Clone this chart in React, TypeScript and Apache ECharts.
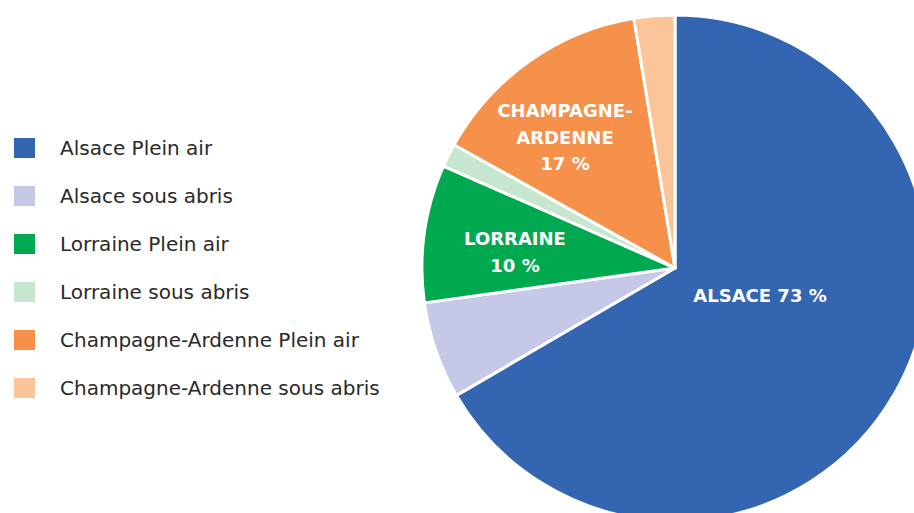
import React, { useEffect, useRef } from "react";
import * as echarts from "echarts";

const categories = [
  "Alsace Plein air",
  "Alsace sous abris",
  "Lorraine Plein air",
  "Lorraine sous abris",
  "Champagne-Ardenne Plein air",
  "Champagne-Ardenne sous abris",
];
const values = [66.6, 6.2, 8.8, 1.5, 14.3, 2.6];
const colors = ["#3465B1", "#C5C8E6", "#00A94F", "#C6E6CF", "#F5914A", "#FCC499"];
const groupLabels = ["ALSACE 73 %", "LORRAINE\n10 %", "CHAMPAGNE-\nARDENNE\n17 %"];

const FONT = "'DejaVu Sans', 'Noto Sans', sans-serif";

export default function App() {
  const ref = useRef<HTMLDivElement>(null);
  useEffect(() => {
    if (!ref.current) return;
    const chart = echarts.init(ref.current, null, { renderer: "svg" });
    const labelStyle = {
      fill: "#ffffff",
      fontSize: 18,
      fontWeight: "bold",
      fontFamily: FONT,
      align: "center",
      verticalAlign: "middle",
      lineHeight: 26.5,
    };
    chart.setOption({
      animation: false,
      backgroundColor: "#ffffff",
      legend: {
        orient: "vertical",
        left: 12,
        top: 136,
        padding: 0,
        itemWidth: 23,
        itemHeight: 22,
        itemGap: 24,
        icon: "rect",
        data: categories,
        textStyle: {
          fontSize: 20,
          lineHeight: 22,
          height: 22,
          color: "#2a2a2a",
          fontFamily: FONT,
          padding: [0, 0, 0, 19],
        },
        selectedMode: false,
      },
      series: [
        {
          type: "pie",
          center: [675, 268],
          radius: [0, 253],
          startAngle: 90,
          clockwise: true,
          label: { show: false },
          labelLine: { show: false },
          emphasis: { disabled: true },
          itemStyle: { borderColor: "#ffffff", borderWidth: 3 },
          data: categories.map((name, i) => ({
            name,
            value: values[i],
            itemStyle: { color: colors[i] },
          })),
        },
      ],
      graphic: [
        { type: "text", z: 100, x: 760, y: 295, style: { ...labelStyle, text: groupLabels[0] } },
        { type: "text", z: 100, x: 515, y: 252, style: { ...labelStyle, text: groupLabels[1] } },
        { type: "text", z: 100, x: 565, y: 137, style: { ...labelStyle, text: groupLabels[2] } },
      ],
    });
    return () => chart.dispose();
  }, []);
  return (
    <div
      ref={ref}
      style={{ position: "fixed", left: 0, top: 0, width: 914, height: 513 }}
    />
  );
}
